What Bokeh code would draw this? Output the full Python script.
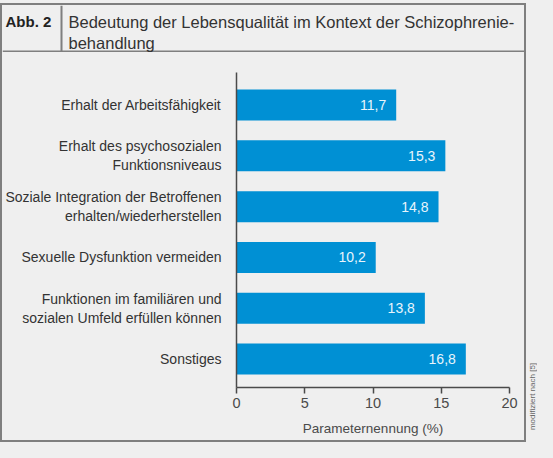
from math import pi
from bokeh.plotting import figure
from bokeh.layouts import column, row
from bokeh.models import Range1d, FixedTicker, Label, Span, ColumnDataSource, GlobalInlineStyleSheet
from bokeh.core.properties import value
from bokeh.embed import file_html
from bokeh.resources import INLINE

# data
kategorien = [
    "Erhalt der Arbeitsfähigkeit",
    "Erhalt des psychosozialen\nFunktionsniveaus",
    "Soziale Integration der Betroffenen\nerhalten/wiederherstellen",
    "Sexuelle Dysfunktion vermeiden",
    "Funktionen im familiären und\nsozialen Umfeld erfüllen können",
    "Sonstiges",
]
werte = [11.7, 15.3, 14.8, 10.2, 13.8, 16.8]
x_ticks = [0, 5, 10, 15, 20]
titel_nr = "Abb. 2"
titel_zeilen = ["Bedeutung der Lebensqualität im Kontext der Schizophrenie-", "behandlung"]
x_label = "Parameternennung (%)"
quelle = "modifiziert nach [5]"

FONT = "Liberation Sans"
BG = "#efefef"
BLUE = "#0090d4"
GREY = "#4a4a4a"
RAND = "#7f7f7f"

W = 522

def leer(fig):
    fig.background_fill_color = BG
    fig.border_fill_color = BG
    fig.outline_line_color = None
    fig.grid.visible = False
    fig.frame_align = False

# --- kopfzeile
kopf = figure(width=W, height=47, output_backend="svg", toolbar_location=None,
              x_range=Range1d(0, W), y_range=Range1d(47, 0),
              x_axis_location=None, y_axis_location=None, min_border=0)
leer(kopf)
kopf.add_layout(Span(location=46, dimension="width", line_color=RAND, line_width=2))
kopf.add_layout(Span(location=59, dimension="height", line_color=RAND, line_width=2))
kopf.add_layout(Label(x=3, y=16, text=titel_nr, text_font=FONT, text_font_size="15px",
                      text_font_style="bold", text_color="#222222", text_baseline="middle"))
for i, zeile in enumerate(titel_zeilen):
    kopf.add_layout(Label(x=66, y=16 + i * 21, text=zeile, text_font=FONT,
                          text_font_size="16.5px", text_color="#333333", text_baseline="middle"))

# --- diagramm
pos = list(range(1, len(kategorien) + 1))
src = ColumnDataSource(data=dict(
    y=pos,
    wert=werte,
    txt=[("%.1f" % v).replace(".", ",") for v in werte],
))

p = figure(width=W, height=388, output_backend="svg", toolbar_location=None,
           x_range=Range1d(0, 20), y_range=Range1d(6.56, 0.36),
           min_border_left=233, min_border_right=15,
           min_border_top=20, min_border_bottom=53)
leer(p)

p.hbar(y="y", right="wert", left=0, height=0.61, source=src,
       fill_color=BLUE, line_color=None)
p.text(x="wert", y="y", text="txt", source=src, x_offset=-10,
       text_align="right", text_baseline="middle", text_color="#e8f5fc",
       text_font_size="14px", text_font=value(FONT))

xa = p.xaxis[0]
xa.ticker = FixedTicker(ticks=x_ticks)
xa.axis_label = x_label
xa.axis_label_text_font = FONT
xa.axis_label_text_font_size = "13.5px"
xa.axis_label_text_font_style = "normal"
xa.axis_label_text_color = GREY
xa.axis_label_standoff = 10
xa.major_label_text_font = FONT
xa.major_label_text_font_size = "14.5px"
xa.major_label_text_color = GREY
xa.major_label_standoff = 4
xa.axis_line_color = GREY
xa.axis_line_width = 1.5
xa.major_tick_line_color = GREY
xa.major_tick_line_width = 1.5
xa.major_tick_in = 0
xa.major_tick_out = 6
xa.minor_tick_line_color = None

ya = p.yaxis[0]
ya.ticker = FixedTicker(ticks=pos)
ya.major_label_overrides = {k: lab for k, lab in zip(pos, kategorien)}
ya.major_label_text_font = FONT
ya.major_label_text_font_size = "14px"
ya.major_label_text_color = "#333333"
ya.major_label_standoff = 9
ya.major_tick_line_color = None
ya.minor_tick_line_color = None
ya.axis_line_color = GREY
ya.axis_line_width = 1.5

# --- quellenangabe rechts
seite = figure(width=11, height=442, output_backend="svg", toolbar_location=None,
               x_range=Range1d(0, 11), y_range=Range1d(0, 442),
               x_axis_location=None, y_axis_location=None, min_border=0)
leer(seite)
seite.add_layout(Label(x=6, y=46, text=quelle, angle=pi / 2, text_font=FONT,
                       text_font_size="8px", text_color="#666666",
                       text_align="center", text_baseline="middle"))

kasten = column(kopf, p, styles={"border": "2px solid " + RAND, "margin-top": "3px"})
layout = row(kasten, seite, stylesheets=[GlobalInlineStyleSheet(css="body { background: %s; }" % BG)])

open("out.html", "w").write(file_html(layout, INLINE))
